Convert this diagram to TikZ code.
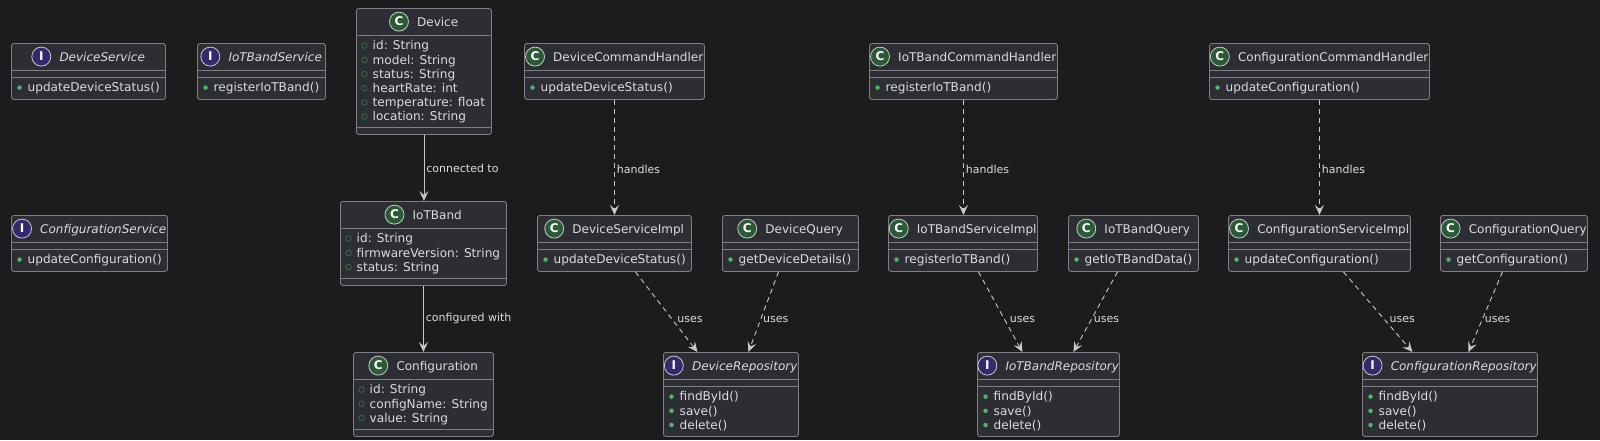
\documentclass[tikz,border=0pt]{standalone}
\usepackage{fontspec}
\setmainfont{DejaVu Sans}[ItalicFont={DejaVu Sans Oblique},BoldFont={DejaVu Sans Bold}]
\usetikzlibrary{calc,arrows.meta}
\definecolor{bg}{HTML}{1C1C1C}
\definecolor{boxfill}{HTML}{2D2D34}
\definecolor{boxline}{HTML}{7E7E86}
\definecolor{txt}{HTML}{DCDCDC}
\definecolor{cgreen}{HTML}{2A5A36}
\definecolor{ipurple}{HTML}{36286E}
\definecolor{iconring}{HTML}{C8C8C8}
\definecolor{mgreen}{HTML}{4EB86A}
\definecolor{fgreen}{HTML}{2E7044}
\definecolor{arrowc}{HTML}{C8C8C8}
\newcommand\umltitlefontC{\fontsize{12}{14}\selectfont}
\newcommand\umltitlefontI{\fontsize{12}{14}\selectfont\itshape}
\newlength\umltw
\tikzset{
  umlbox/.style={draw=boxline, fill=boxfill, rounded corners=2.5pt, inner sep=0pt, line width=0.9pt},
  sepline/.style={draw=boxline, line width=0.9pt},
  titletext/.style={text=txt, inner sep=0pt, anchor=base},
  icon C/.style={circle, fill=cgreen, draw=iconring, line width=0.8pt, minimum size=19pt, inner sep=0pt, text=white, font=\fontsize{12}{12}\selectfont\bfseries},
  icon I/.style={circle, fill=ipurple, draw=iconring, line width=0.8pt, minimum size=19pt, inner sep=0pt, text=white, font=\fontsize{12}{12}\selectfont\bfseries},
  member/.style={font=\fontsize{12.1}{14}\selectfont, text=txt, inner sep=0pt, anchor=base west},
  mdot/.style={circle, fill=mgreen, inner sep=0pt, minimum size=4.5pt},
  fdot/.style={circle, draw=fgreen, line width=0.8pt, inner sep=0pt, minimum size=5.5pt},
  assoc/.style={draw=arrowc, line width=0.9pt, -{Stealth[length=10pt,width=9pt,inset=4pt]}},
  depend/.style={assoc, dash pattern=on 5pt off 4pt},
  lbl/.style={font=\fontsize{11}{13}\selectfont, text=txt, inner sep=2pt, anchor=west},
}
% name, x1, y1, x2, y2, kind (C/I), title
\newcommand\umlclass[7]{%
  \node[umlbox, anchor=north west, minimum width={(#4)-(#2)}, minimum height={(#5)-(#3)}] (#1) at (#2,#3) {};
  \draw[sepline] ($(#1.north west)+(0,27)$) -- ($(#1.north east)+(0,27)$);
  \settowidth\umltw{\csname umltitlefont#6\endcsname #7}%
  \pgfmathsetmacro\umltwv{\umltw}%
  \pgfmathsetmacro\umlgap{min(18,(#4)-(#2)-7-9.5-\umltwv)}%
  \pgfmathsetmacro\umltcx{(9.5+\umlgap)/2}%
  \node[titletext] (#1-t) at ($(#1.north)+(\umltcx,18)$) {\csname umltitlefont#6\endcsname #7};
  \node[icon #6] (#1-i) at ($(#1-t.base west)+(-\umlgap,-4.4)$) {#6};
}
\newcommand\umlsep[2]{%
  \draw[sepline] ($(#1.north west)+(0,#2)$) -- ($(#1.north east)+(0,#2)$);
}
\newcommand\umlmembers[4]{%
  \foreach \m [count=\k] in {#4} {
    \pgfmathsetmacro\yy{#2+10.6+(\k-1)*14.2}
    \node[#3] at ($(#1.north west)+(8.5,\yy)$) {};
    \node[member] at ($(#1.north west)+(16.5,\yy+4.3)$) {\m};
  }
}
\begin{document}
\begin{tikzpicture}[x=1pt,y=-1pt]
\useasboundingbox (0,0) rectangle (1600,440);
\fill[bg] (0,0) rectangle (1600,440);

% interfaces on the left
\umlclass{ds}{11}{43}{165}{99}{I}{DeviceService}
\umlsep{ds}{34}
\umlmembers{ds}{34}{mdot}{updateDeviceStatus()}

\umlclass{ibs}{197}{43}{325}{99}{I}{IoTBandService}
\umlsep{ibs}{34}
\umlmembers{ibs}{34}{mdot}{registerIoTBand()}

\umlclass{cs}{11}{215}{167}{271}{I}{ConfigurationService}
\umlsep{cs}{34}
\umlmembers{cs}{34}{mdot}{updateConfiguration()}

% entities
\umlclass{dev}{356}{8}{491}{134}{C}{Device}
\umlmembers{dev}{27}{fdot}{id: String, model: String, status: String, heartRate: int, temperature: float, location: String}
\umlsep{dev}{119}

\umlclass{iot}{340}{201}{506}{285}{C}{IoTBand}
\umlmembers{iot}{27}{fdot}{id: String, firmwareVersion: String, status: String}
\umlsep{iot}{77}

\umlclass{cfg}{353}{352}{493}{436}{C}{Configuration}
\umlmembers{cfg}{27}{fdot}{id: String, configName: String, value: String}
\umlsep{cfg}{77}

% command handlers
\umlclass{dch}{524}{43}{704}{99}{C}{DeviceCommandHandler}
\umlsep{dch}{34}
\umlmembers{dch}{34}{mdot}{updateDeviceStatus()}

\umlclass{ich}{869}{43}{1057}{99}{C}{IoTBandCommandHandler}
\umlsep{ich}{34}
\umlmembers{ich}{34}{mdot}{registerIoTBand()}

\umlclass{cch}{1209}{43}{1429}{99}{C}{ConfigurationCommandHandler}
\umlsep{cch}{34}
\umlmembers{cch}{34}{mdot}{updateConfiguration()}

% service impls and queries
\umlclass{dsi}{537}{215}{691}{271}{C}{DeviceServiceImpl}
\umlsep{dsi}{34}
\umlmembers{dsi}{34}{mdot}{updateDeviceStatus()}

\umlclass{dq}{722}{215}{858}{271}{C}{DeviceQuery}
\umlsep{dq}{34}
\umlmembers{dq}{34}{mdot}{getDeviceDetails()}

\umlclass{isi}{888}{215}{1037}{271}{C}{IoTBandServiceImpl}
\umlsep{isi}{34}
\umlmembers{isi}{34}{mdot}{registerIoTBand()}

\umlclass{iq}{1068}{215}{1198}{271}{C}{IoTBandQuery}
\umlsep{iq}{34}
\umlmembers{iq}{34}{mdot}{getIoTBandData()}

\umlclass{csi}{1228}{215}{1410}{271}{C}{ConfigurationServiceImpl}
\umlsep{csi}{34}
\umlmembers{csi}{34}{mdot}{updateConfiguration()}

\umlclass{cq}{1440}{215}{1587}{271}{C}{ConfigurationQuery}
\umlsep{cq}{34}
\umlmembers{cq}{34}{mdot}{getConfiguration()}

% repositories
\umlclass{dr}{663}{352}{798}{436}{I}{DeviceRepository}
\umlsep{dr}{34}
\umlmembers{dr}{34}{mdot}{findById(), save(), delete()}

\umlclass{ir}{977}{352}{1119}{436}{I}{IoTBandRepository}
\umlsep{ir}{34}
\umlmembers{ir}{34}{mdot}{findById(), save(), delete()}

\umlclass{cr}{1362}{352}{1537}{436}{I}{ConfigurationRepository}
\umlsep{cr}{34}
\umlmembers{cr}{34}{mdot}{findById(), save(), delete()}

% connectors
\draw[assoc] (dev.south) -- node[lbl, pos=0.5] {connected to} (dev.south |- iot.north);
\draw[assoc] (iot.south) -- node[lbl, pos=0.49] {configured with} (iot.south |- cfg.north);

\draw[depend] (dch.south) -- node[lbl, pos=0.6] {handles} (dch.south |- dsi.north);
\draw[depend] (ich.south) -- node[lbl, pos=0.6] {handles} (ich.south |- isi.north);
\draw[depend] (cch.south) -- node[lbl, pos=0.6] {handles} (cch.south |- csi.north);

\draw[depend] ([xshift=21pt]dsi.south) -- node[lbl, pos=0.59, xshift=3pt] {uses} ([xshift=-33.5pt]dr.north);
\draw[depend] ([xshift=-12pt]dq.south) -- node[lbl, pos=0.59] {uses} ([xshift=17.5pt]dr.north);
\draw[depend] ([xshift=15.5pt]isi.south) -- node[lbl, pos=0.59, xshift=3pt] {uses} ([xshift=-26pt]ir.north);
\draw[depend] ([xshift=-16pt]iq.south) -- node[lbl, pos=0.59] {uses} ([xshift=25pt]ir.north);
\draw[depend] ([xshift=24pt]csi.south) -- node[lbl, pos=0.59, xshift=3pt] {uses} ([xshift=-37.5pt]cr.north);
\draw[depend] ([xshift=-11.5pt]cq.south) -- node[lbl, pos=0.59] {uses} ([xshift=18.5pt]cr.north);
\end{tikzpicture}
\end{document}
